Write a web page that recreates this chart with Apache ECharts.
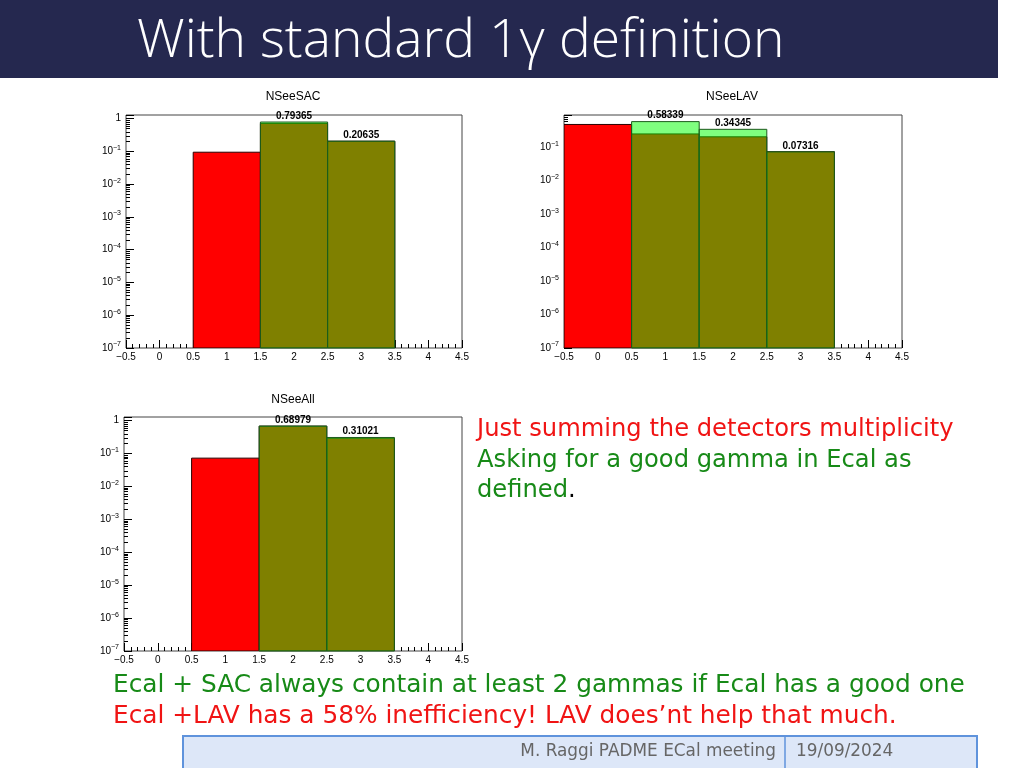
<!DOCTYPE html>
<html><head><meta charset="utf-8">
<script src="https://cdn.jsdelivr.net/npm/echarts@6/dist/echarts.min.js"></script>
<style>html,body{margin:0;padding:0;background:#fff}#c{width:1024px;height:768px}</style>
</head><body><div id="c"></div>
<script>
// ---- data ----
const bins = [0, 1, 2, 3];               // bin centres (multiplicity)
const sacAll  = [0, 0.095, 0.72, 0.206];  // red: all events
const sacGood = [0, 0, 0.79365, 0.20635]; // green: good Ecal gamma
const lavAll  = [0.48, 0.25, 0.205, 0.0735];
const lavGood = [0, 0.58339, 0.34345, 0.07316];
const allAll  = [0, 0.073, 0.685, 0.295];
const allGood = [0, 0, 0.68979, 0.31021];
const histTitles = ['NSeeSAC', 'NSeeLAV', 'NSeeAll'];
const yMaxes = [1.3, 0.92, 1.3];
const Y_MIN = 1e-7;

const chart = echarts.init(document.getElementById('c'), null, {renderer: 'canvas'});

function toData(vals) { return bins.map((b, i) => [b, vals[i]]).filter(d => d[1] > 0); }

function histRender(fill, stroke, withLabel) {
  return function (params, api) {
    const x = api.value(0), y = api.value(1);
    if (!(y > 0)) return null;
    const p1 = api.coord([x - 0.5, y]);
    const p2 = api.coord([x + 0.5, Y_MIN]);
    const children = [{
      type: 'rect',
      shape: {x: p1[0], y: p1[1], width: p2[0] - p1[0], height: p2[1] - p1[1]},
      style: {fill: fill, stroke: stroke, lineWidth: 1}
    }];
    if (withLabel) {
      const pc = api.coord([x, y]);
      children.push({
        type: 'text', z2: 10,
        style: {x: pc[0], y: pc[1] - 1, text: y.toFixed(5), align: 'center', verticalAlign: 'bottom',
          font: 'bold 10px "Liberation Sans", Arial, sans-serif', fill: '#000'}
      });
    }
    return {type: 'group', children: children};
  };
}

const grids = [
  {left: 126, top: 115, width: 336, height: 233},
  {left: 564, top: 115, width: 338, height: 233},
  {left: 124, top: 417, width: 338, height: 234}
];
const titlePos = [[293, 97], [732, 97], [293, 400]];

const xAxes = grids.map((g, i) => ({
  type: 'value', gridIndex: i, min: -0.5, max: 4.5, interval: 0.5,
  axisLine: {show: false, onZero: false},
  axisTick: {show: true, inside: true, length: 8, lineStyle: {color: '#000', width: 1}},
  minorTick: {show: true, splitNumber: 5, length: 4, lineStyle: {color: '#000'}},
  splitLine: {show: false},
  axisLabel: {margin: 4, fontSize: 10, color: '#000', fontFamily: '"Liberation Sans", Arial, sans-serif',
    formatter: v => String(v).replace('-', '−')}
}));
const yAxes = grids.map((g, i) => ({
  type: 'log', logBase: 10, gridIndex: i, min: Y_MIN, max: yMaxes[i], splitNumber: 7,
  position: 'left',
  axisLine: {show: false, onZero: false},
  axisTick: {show: true, inside: true, length: 8, lineStyle: {color: '#000'}},
  minorTick: {show: true, splitNumber: 9, length: 4, lineStyle: {color: '#000'}},
  splitLine: {show: false},
  axisLabel: {margin: 5, fontSize: 10, color: '#000', fontFamily: '"Liberation Sans", Arial, sans-serif',
    formatter: v => {
      const l = Math.log10(v);
      const e = Math.round(l);
      if (Math.abs(l - e) > 0.01) return '';
      if (e === 0) return '1';
      return '10{s|' + String(e).replace('-', '−') + '}';
    },
    rich: {s: {fontSize: 7, padding: [0, 0, 7, 0], fontFamily: '"Liberation Sans", Arial, sans-serif', color: '#000'}}
  }
}));

const series = [];
const allSets = [[sacAll, sacGood], [lavAll, lavGood], [allAll, allGood]];
allSets.forEach((s, i) => {
  series.push({type: 'custom', xAxisIndex: i, yAxisIndex: i, clip: true, z: 2,
    data: toData(s[0]), encode: {x: 0, y: 1},
    renderItem: histRender('#ff0000', '#2a0000', false)});
  series.push({type: 'custom', xAxisIndex: i, yAxisIndex: i, clip: false, z: 3,
    data: toData(s[1]), encode: {x: 0, y: 1},
    renderItem: histRender('rgba(0,255,0,0.5)', '#1d5a1d', true)});
});

// fit slide text sizes to the widths in the reference
const mctx = document.createElement('canvas').getContext('2d');
function fit(text, font, target) {
  mctx.font = font.replace('#', '100px');
  return Math.round(100 * target / mctx.measureText(text).width * 10) / 10;
}
const titleFont = '300 # "Open Sans", sans-serif';
const bodyFont = '400 # "DejaVu Sans", sans-serif';
const tTitle = 'With standard 1γ definition';
const tR1 = 'Just summing the detectors multiplicity';
const tR2 = 'Asking for a good gamma in Ecal as';
const tB1 = 'Ecal + SAC always contain at least 2 gammas if Ecal has a good one';
const tB2 = 'Ecal +LAV has a 58% inefficiency! LAV does’nt help that much.';
const tF1 = 'M. Raggi PADME ECal meeting';
const tF2 = '19/09/2024';
const F = (f, s) => f.replace('#', s + 'px');
const sTitle = fit(tTitle, titleFont, 648);
const sR = fit(tR1, bodyFont, 476);
const sB = fit(tB1, bodyFont, 852);
const sF = fit(tF1, bodyFont, 256);

const graphic = [
  {type: 'rect', shape: {x: 0, y: 0, width: 998, height: 78}, style: {fill: '#25284f'}, z: 0},
  {type: 'text', x: 137, y: 42, style: {text: tTitle, fill: '#fff',
    font: F(titleFont, sTitle), verticalAlign: 'middle',
    shadowColor: 'rgba(0,0,0,0.6)', shadowBlur: 3, shadowOffsetX: 1, shadowOffsetY: 1}},
  {type: 'text', x: 477, y: 430, style: {text: tR1, fill: '#f01414', font: F(bodyFont, sR), verticalAlign: 'middle'}},
  {type: 'text', x: 477, y: 461, style: {text: tR2, fill: '#178a17', font: F(bodyFont, sR), verticalAlign: 'middle'}},
  {type: 'text', x: 477, y: 491, style: {text: 'defined{k|.}', fill: '#178a17', font: F(bodyFont, sR), verticalAlign: 'middle',
    rich: {k: {fill: '#000', font: F(bodyFont, sR)}}}},
  {type: 'text', x: 113, y: 686, style: {text: tB1, fill: '#178a17', font: F(bodyFont, sB), verticalAlign: 'middle'}},
  {type: 'text', x: 113, y: 717, style: {text: tB2, fill: '#f01414', font: F(bodyFont, sB), verticalAlign: 'middle'}},
  {type: 'rect', shape: {x: 183, y: 736, width: 794, height: 34}, style: {fill: '#dde7f8', stroke: '#5f93dc', lineWidth: 2}},
  {type: 'line', shape: {x1: 785, y1: 737, x2: 785, y2: 768}, style: {stroke: '#5f93dc', lineWidth: 1.5}},
  {type: 'text', x: 776, y: 752, style: {text: tF1, fill: '#666', font: F(bodyFont, sF), align: 'right', verticalAlign: 'middle'}},
  {type: 'text', x: 796, y: 752, style: {text: tF2, fill: '#666', font: F(bodyFont, sF), verticalAlign: 'middle'}}
];
titlePos.forEach((p, i) => graphic.push({type: 'text', x: p[0], y: p[1],
  style: {text: histTitles[i], fill: '#000', font: '12px "Liberation Sans", Arial, sans-serif', align: 'center', verticalAlign: 'middle'}}));

chart.setOption({
  animation: false,
  backgroundColor: '#fff',
  grid: grids.map(g => Object.assign({show: true, borderColor: '#444', borderWidth: 1, backgroundColor: 'transparent'}, g)),
  xAxis: xAxes,
  yAxis: yAxes,
  series: series,
  graphic: graphic
});
</script></body></html>
